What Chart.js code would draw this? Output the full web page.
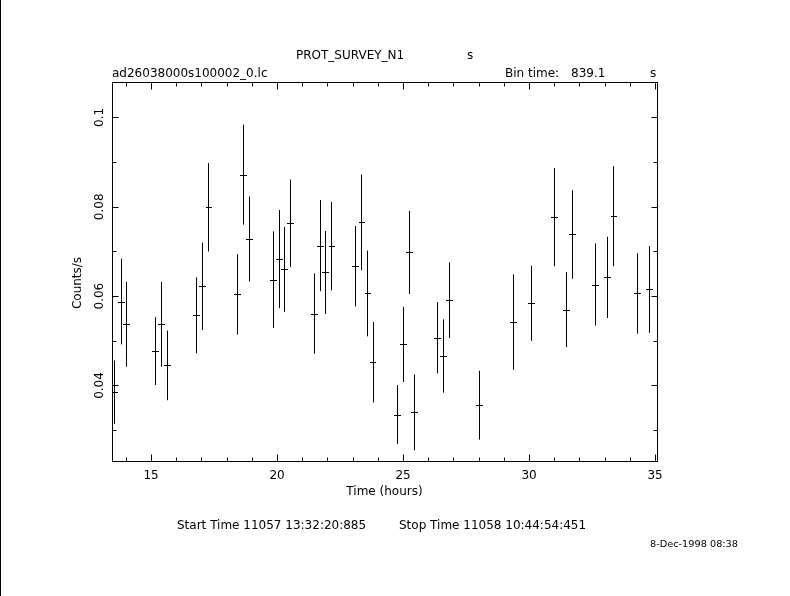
<!DOCTYPE html>
<html>
<head>
<meta charset="utf-8">
<script src="https://cdn.jsdelivr.net/npm/chart.js@4.4.1/dist/chart.umd.min.js"></script>
<style>
  html, body { margin: 0; padding: 0; background: #fff; }
  #wrap { width: 790px; height: 596px; position: relative; }
</style>
</head>
<body>
<div id="wrap"><canvas id="lcChart" width="790" height="596"></canvas></div>
<script>
// light curve bins (hours since day start), count rate and 1-sigma error
const timeHours = [13.55, 13.55, 13.80, 14.02, 15.17, 15.41, 15.65, 16.80, 17.04, 17.28,
    18.41, 18.66, 18.90, 19.85, 20.07, 20.29, 20.53, 21.48, 21.72, 21.92,
    22.16, 23.11, 23.35, 23.59, 23.79, 24.75, 24.99, 25.23, 25.44, 26.36,
    26.60, 26.84, 28.00, 29.38, 30.09, 31.00, 31.48, 31.72, 32.63, 33.11,
    33.35, 34.30, 34.75];
const rate = [0.0401, 0.0385, 0.0588, 0.0537, 0.0477, 0.0537, 0.0445, 0.0557, 0.0622, 0.0799,
    0.0604, 0.0872, 0.0728, 0.0637, 0.0683, 0.0660, 0.0763, 0.0561, 0.0713, 0.0653,
    0.0712, 0.0667, 0.0765, 0.0606, 0.0452, 0.0335, 0.0492, 0.0698, 0.0340, 0.0507,
    0.0466, 0.0591, 0.0356, 0.0542, 0.0584, 0.0777, 0.0570, 0.0738, 0.0626, 0.0642,
    0.0779, 0.0606, 0.0615];
const rateErr = [0.0054, 0.0071, 0.0096, 0.0095, 0.0076, 0.0095, 0.0078, 0.0085, 0.0098, 0.0099,
    0.0090, 0.0112, 0.0095, 0.0108, 0.0110, 0.0095, 0.0098, 0.0090, 0.0102, 0.0093,
    0.0099, 0.0090, 0.0107, 0.0096, 0.0090, 0.0066, 0.0084, 0.0093, 0.0085, 0.0080,
    0.0082, 0.0085, 0.0077, 0.0107, 0.0084, 0.0110, 0.0084, 0.0099, 0.0092, 0.0091,
    0.0112, 0.0090, 0.0097];
const binHalfHours = 839.1 / 3600 / 2;

const xMajorTicks = [15, 20, 25, 30, 35];
const xTickLabels = ['15', '20', '25', '30', '35'];
const xMinorTicks = [14, 16, 17, 18, 19, 21, 22, 23, 24, 26, 27, 28, 29, 31, 32, 33, 34];
const yMajorTicks = [0.04, 0.06, 0.08, 0.1];
const yTickLabels = ['0.04', '0.06', '0.08', '0.1'];
const yMinorTicks = [0.03, 0.05, 0.07, 0.09];

const FONT = '"DejaVu Sans", sans-serif';

// crisp 1px line helper
function px(v) { return Math.round(v) + 0.5; }

const pgplotFrame = {
    id: 'pgplotFrame',
    afterDraw(chart) {
        const ctx = chart.ctx;
        const a = chart.chartArea;
        const xs = chart.scales.x, ys = chart.scales.y;
        ctx.save();
        ctx.strokeStyle = '#000';
        ctx.fillStyle = '#000';
        ctx.lineWidth = 1;

        // error bars
        ctx.beginPath();
        timeHours.forEach((t, i) => {
            const cx = xs.getPixelForValue(t);
            const cy = ys.getPixelForValue(rate[i]);
            const x0 = xs.getPixelForValue(t - binHalfHours);
            const x1 = xs.getPixelForValue(t + binHalfHours);
            const y0 = ys.getPixelForValue(rate[i] + rateErr[i]);
            const y1 = ys.getPixelForValue(rate[i] - rateErr[i]);
            ctx.moveTo(px(cx), Math.max(a.top, y0));
            ctx.lineTo(px(cx), Math.min(a.bottom, y1));
            ctx.moveTo(Math.round(x0), px(cy));
            ctx.lineTo(Math.round(x1) + 1, px(cy));
        });
        ctx.stroke();

        // frame
        const L = px(a.left), R = px(a.right), T = px(a.top), B = px(a.bottom);
        ctx.strokeRect(L, T, R - L, B - T);

        // ticks, all inward
        ctx.beginPath();
        const xt = (v, len) => {
            const p = px(xs.getPixelForValue(v));
            ctx.moveTo(p, B); ctx.lineTo(p, B - len);
            ctx.moveTo(p, T); ctx.lineTo(p, T + len);
        };
        const yt = (v, len) => {
            const p = px(ys.getPixelForValue(v));
            ctx.moveTo(L, p); ctx.lineTo(L + len, p);
            ctx.moveTo(R, p); ctx.lineTo(R - len, p);
        };
        xMajorTicks.forEach(v => xt(v, 7));
        xMinorTicks.forEach(v => xt(v, 4));
        yMajorTicks.forEach(v => yt(v, 6));
        yMinorTicks.forEach(v => yt(v, 4));
        ctx.stroke();

        // left border line of the page
        ctx.fillRect(0, 0, 1, 596);

        // tick labels
        ctx.font = '12px ' + FONT;
        ctx.textAlign = 'center';
        ctx.textBaseline = 'alphabetic';
        xMajorTicks.forEach((v, i) => {
            ctx.fillText(xTickLabels[i], xs.getPixelForValue(v), 479);
        });
        yMajorTicks.forEach((v, i) => {
            ctx.save();
            ctx.translate(103, ys.getPixelForValue(v));
            ctx.rotate(-Math.PI / 2);
            ctx.fillText(yTickLabels[i], 0, 0);
            ctx.restore();
        });

        // axis titles
        ctx.fillText('Time (hours)', (a.left + a.right) / 2, 495);
        ctx.save();
        ctx.translate(81, 283);
        ctx.rotate(-Math.PI / 2);
        ctx.fillText('Counts/s', 0, 0);
        ctx.restore();

        // header and footer texts
        ctx.textAlign = 'left';
        ctx.fillText('PROT_SURVEY_N1', 296, 59);
        ctx.fillText('s', 467, 59);
        ctx.fillText('ad26038000s100002_0.lc', 112, 77);
        ctx.fillText('Bin time:', 505, 77);
        ctx.fillText('839.1', 571, 77);
        ctx.fillText('s', 650, 77);
        ctx.fillText('Start Time 11057 13:32:20:885', 177, 529);
        ctx.fillText('Stop Time 11058 10:44:54:451', 399, 529);

        // small plot date, stretched to the width of the original stamp
        ctx.font = '8px ' + FONT;
        const stamp = '8-Dec-1998 08:38';
        const sw = ctx.measureText(stamp).width;
        ctx.save();
        ctx.translate(650, 547);
        ctx.scale(88 / sw, 1);
        ctx.fillText(stamp, 0, 0);
        ctx.restore();
        ctx.restore();
    }
};

const ctx = document.getElementById('lcChart').getContext('2d');
const lcChart = new Chart(ctx, {
    type: 'scatter',
    data: {
        datasets: [{
            label: 'rate',
            data: timeHours.map((t, i) => ({ x: t, y: rate[i] })),
            pointRadius: 0,
            showLine: false
        }]
    },
    options: {
        responsive: false,
        animation: false,
        layout: {
            padding: { left: 111.7, right: 132.7, top: 81.7, bottom: 135 }
        },
        scales: {
            x: { type: 'linear', display: false, min: 13.44, max: 35.09 },
            y: { type: 'linear', display: false, min: 0.0231, max: 0.1080 }
        },
        plugins: {
            legend: { display: false },
            tooltip: { enabled: false }
        }
    },
    plugins: [pgplotFrame]
});
</script>
</body>
</html>
